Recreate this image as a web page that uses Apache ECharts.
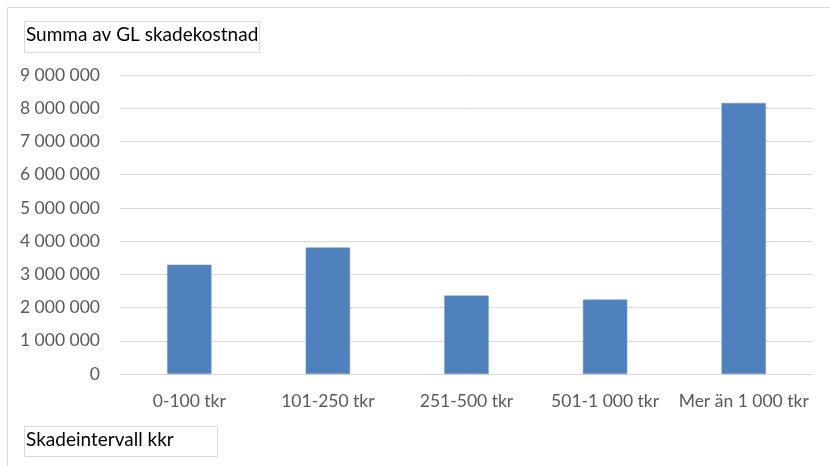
<!DOCTYPE html>
<html>
<head>
<meta charset="utf-8">
<script src="https://cdn.jsdelivr.net/npm/echarts@6/dist/echarts.min.js"></script>
<style>
html,body{margin:0;padding:0;background:#fff;}
#chart{width:830px;height:466px;}
</style>
</head>
<body>
<div id="chart"></div>
<script>
const categories = ['0-100 tkr', '101-250 tkr', '251-500 tkr', '501-1 000 tkr', 'Mer än 1 000 tkr'];
const values = [3290000, 3810000, 2360000, 2240000, 8160000];
const yTicks = { min: 0, max: 9000000, interval: 1000000 };
const titleText = 'Summa av GL skadekostnad';
const xTitleText = 'Skadeintervall kkr';

const FONT = 'Lato, "Open Sans", sans-serif';
const chart = echarts.init(document.getElementById('chart'));
chart.setOption({
  animation: false,
  backgroundColor: '#fff',
  grid: { left: 120, right: 17, top: 75, bottom: 92, containLabel: false },
  xAxis: {
    type: 'category',
    data: categories,
    axisLine: { show: true, lineStyle: { color: '#d9d9d9', width: 1 } },
    axisTick: { show: false },
    axisLabel: { color: '#595959', fontSize: 17.5, fontFamily: FONT, margin: 18, interval: 0 }
  },
  yAxis: {
    type: 'value',
    min: yTicks.min, max: yTicks.max, interval: yTicks.interval,
    axisLine: { show: false },
    axisTick: { show: false },
    splitLine: { lineStyle: { color: '#d9d9d9', width: 1 } },
    axisLabel: {
      color: '#595959', fontSize: 17.5, fontFamily: FONT, margin: 20,
      formatter: v => String(v).replace(/\B(?=(\d{3})+(?!\d))/g, ' ')
    }
  },
  series: [{
    type: 'bar',
    data: values,
    barWidth: '32%',
    itemStyle: { color: '#4f81bd', borderColor: '#6f97c9', borderWidth: 0.5 }
  }],
  graphic: [
    { type: 'rect', shape: { x: 7.5, y: 7.5, width: 840, height: 470 }, style: { fill: 'none', stroke: '#d9d9d9', lineWidth: 1 }, silent: true },
    { type: 'rect', shape: { x: 24.5, y: 21.5, width: 235, height: 31 }, style: { fill: '#fff', stroke: '#d9d9d9', lineWidth: 1 } },
    { type: 'text', left: 26, top: 25, style: { text: titleText, fill: '#000', fontSize: 19, fontFamily: FONT } },
    { type: 'rect', shape: { x: 24.5, y: 426.5, width: 193, height: 30 }, style: { fill: '#fff', stroke: '#d9d9d9', lineWidth: 1 } },
    { type: 'text', left: 26, top: 430, style: { text: xTitleText, fill: '#000', fontSize: 19, fontFamily: FONT } }
  ]
});
</script>
</body>
</html>
